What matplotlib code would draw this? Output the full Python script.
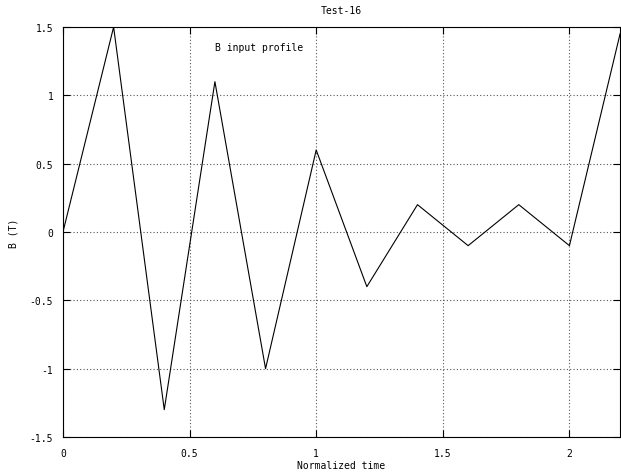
import matplotlib
matplotlib.use("Agg")
import matplotlib.pyplot as plt

# Dati
t = [0.0, 0.2, 0.4, 0.6, 0.8, 1.0, 1.2, 1.4, 1.6, 1.8, 2.0, 2.2]
b = [0.0, 1.5, -1.3, 1.1, -1.0, 0.6, -0.4, 0.2, -0.1, 0.2, -0.1, 1.45]
xticks = [0, 0.5, 1, 1.5, 2]
xlabels = ["0", "0.5", "1", "1.5", "2"]
yticks = [-1.5, -1, -0.5, 0, 0.5, 1, 1.5]
ylabels = ["-1.5", "-1", "-0.5", "0", "0.5", "1", "1.5"]

plt.rcParams['font.family'] = 'DejaVu Sans Mono'
plt.rcParams['font.size'] = 7

fig = plt.figure(figsize=(6.21, 4.77), dpi=100)
ax = fig.add_axes([0.1014, 0.0818, 0.8971, 0.8595])

ax.plot(t, b, color="black", linewidth=0.8)
ax.set_xlim(0, 2.2)
ax.set_ylim(-1.5, 1.5)

ax.set_xticks(xticks)
ax.set_xticklabels(xlabels)
ax.set_yticks(yticks)
ax.set_yticklabels(ylabels)
ax.tick_params(direction="in", top=True, right=True, length=5, width=0.8)
ax.tick_params(axis="x", pad=8)
ax.tick_params(axis="y", pad=7)
ax.grid(True, linestyle=(0, (1, 2)), color="#555555", linewidth=0.8)
for s in ax.spines.values():
    s.set_linewidth(0.8)

ax.text(0.6, 1.33, "B input profile", fontsize=7)
ax.set_title("Test-16", fontsize=7, pad=10)
ax.set_xlabel("Normalized time", labelpad=1.5)
ax.set_ylabel("B (T)", labelpad=8)

fig.savefig("out.png", dpi=100)
